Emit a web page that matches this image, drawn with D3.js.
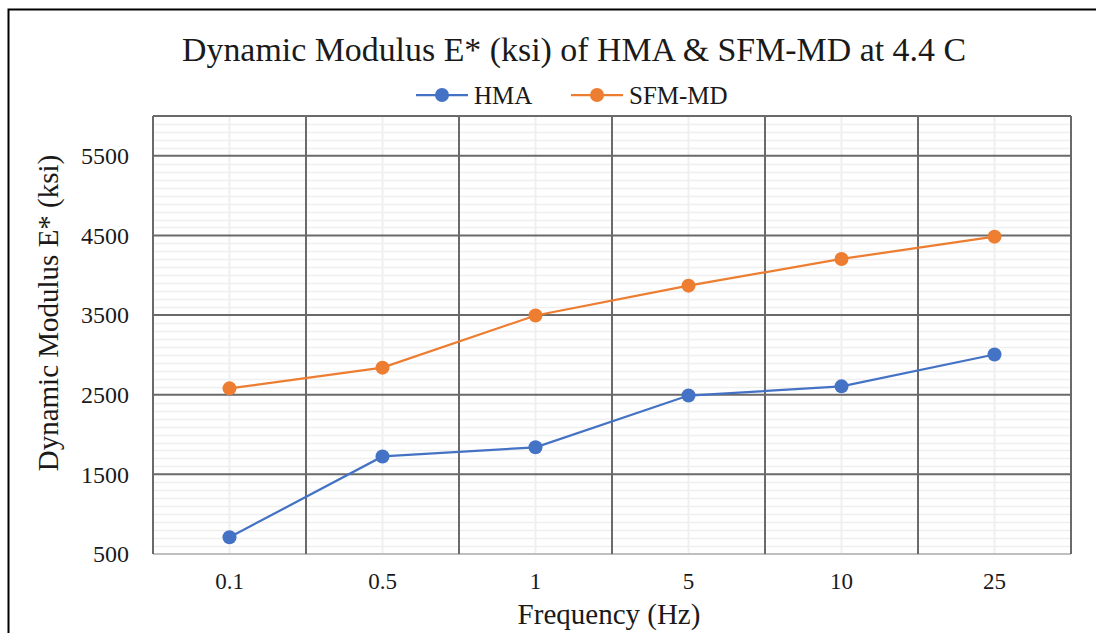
<!DOCTYPE html>
<html>
<head>
<meta charset="utf-8">
<script src="https://cdn.jsdelivr.net/npm/d3@7"></script>
<style>
  body { margin: 0; background: #fff; }
  text { font-family: "Liberation Serif", "DejaVu Serif", serif; fill: #1a1a1a; }
</style>
</head>
<body>
<svg id="chart" width="1096" height="633"></svg>
<script>
var categories = ["0.1", "0.5", "1", "5", "10", "25"];
var hma = [710, 1725, 1840, 2490, 2605, 3005];
var sfm = [2580, 2840, 3495, 3870, 4205, 4485];
var yTicks = [500, 1500, 2500, 3500, 4500, 5500];
var seriesNames = ["HMA", "SFM-MD"];
var colors = ["#4472C4", "#ED7D31"];

var svg = d3.select("#chart");
var w = 1096, h = 633;
var m = { top: 116, right: 25, bottom: 79, left: 153 };
var pw = w - m.left - m.right, ph = h - m.top - m.bottom;

// outer frame (top and left only visible)
svg.append("path")
  .attr("d", "M8.5," + h + "V9.5H" + w)
  .attr("fill", "none").attr("stroke", "#000").attr("stroke-width", 2);

var x = d3.scaleBand().domain(categories).range([0, pw]);
var y = d3.scaleLinear().domain([500, 6000]).range([ph, 0]);

var g = svg.append("g").attr("transform", "translate(" + m.left + "," + m.top + ")");

// minor horizontal gridlines every 100
var minor = d3.range(600, 6000, 100).filter(function(v){ return (v - 500) % 1000 !== 0; });
g.selectAll(".minorH").data(minor).enter().append("line")
  .attr("x1", 0).attr("x2", pw)
  .attr("y1", function(d){ return Math.round(y(d)) + 0.5; })
  .attr("y2", function(d){ return Math.round(y(d)) + 0.5; })
  .attr("stroke", "#efefef").attr("stroke-width", 1.5);

// minor vertical gridlines at category centres
g.selectAll(".minorV").data(categories).enter().append("line")
  .attr("x1", function(d){ return x(d) + x.bandwidth() / 2; })
  .attr("x2", function(d){ return x(d) + x.bandwidth() / 2; })
  .attr("y1", 0).attr("y2", ph)
  .attr("stroke", "#efefef").attr("stroke-width", 2);

// major horizontal gridlines
g.selectAll(".majorH").data(yTicks.concat([6000])).enter().append("line")
  .attr("x1", 0).attr("x2", pw)
  .attr("y1", function(d){ return y(d); })
  .attr("y2", function(d){ return y(d); })
  .attr("stroke", function(d){ return d === 500 ? "#bfbfbf" : "#6a6a6a"; })
  .attr("stroke-width", 2);

// major vertical gridlines at category boundaries
var bounds = categories.map(function(c){ return x(c); }).concat([pw]);
g.selectAll(".majorV").data(bounds).enter().append("line")
  .attr("x1", function(d){ return d; }).attr("x2", function(d){ return d; })
  .attr("y1", 0).attr("y2", ph)
  .attr("stroke", "#6a6a6a").attr("stroke-width", 2);

// y tick labels
g.selectAll(".ylab").data(yTicks).enter().append("text")
  .attr("x", -24).attr("y", function(d){ return y(d); })
  .attr("dy", "0.35em").attr("text-anchor", "end")
  .attr("font-size", 24).text(function(d){ return d; });

// x tick labels
g.selectAll(".xlab").data(categories).enter().append("text")
  .attr("x", function(d){ return x(d) + x.bandwidth() / 2; })
  .attr("y", ph + 35).attr("text-anchor", "middle")
  .attr("font-size", 23).text(function(d){ return d; });

// series
var series = [hma, sfm];
var line = d3.line()
  .x(function(d, i){ return x(categories[i]) + x.bandwidth() / 2; })
  .y(function(d){ return y(d); });

series.forEach(function(s, k){
  g.append("path").datum(s).attr("d", line)
    .attr("fill", "none").attr("stroke", colors[k]).attr("stroke-width", 2.25);
  g.selectAll(".pt" + k).data(s).enter().append("circle")
    .attr("cx", function(d, i){ return x(categories[i]) + x.bandwidth() / 2; })
    .attr("cy", function(d){ return y(d); })
    .attr("r", 7).attr("fill", colors[k]);
});

// title
svg.append("text").attr("x", 574).attr("y", 61).attr("text-anchor", "middle")
  .attr("font-size", 33).attr("textLength", 784).attr("lengthAdjust", "spacingAndGlyphs")
  .text("Dynamic Modulus E* (ksi) of HMA & SFM-MD at 4.4 C");

// legend
var legX = [416, 571];
seriesNames.forEach(function(n, k){
  var lg = svg.append("g").attr("transform", "translate(" + legX[k] + ",95)");
  lg.append("line").attr("x1", 0).attr("x2", 52).attr("y1", 0).attr("y2", 0)
    .attr("stroke", colors[k]).attr("stroke-width", 2.25);
  lg.append("circle").attr("cx", 26).attr("cy", 0).attr("r", 7).attr("fill", colors[k]);
  lg.append("text").attr("x", 58).attr("y", 0).attr("dy", "0.35em")
    .attr("font-size", 25).text(n);
});

// axis titles
svg.append("text").attr("x", 609).attr("y", 624)
  .attr("text-anchor", "middle").attr("font-size", 29).text("Frequency (Hz)");
svg.append("text")
  .attr("transform", "translate(58,313) rotate(-90)")
  .attr("text-anchor", "middle").attr("font-size", 29).text("Dynamic Modulus E* (ksi)");
</script>
</body>
</html>
